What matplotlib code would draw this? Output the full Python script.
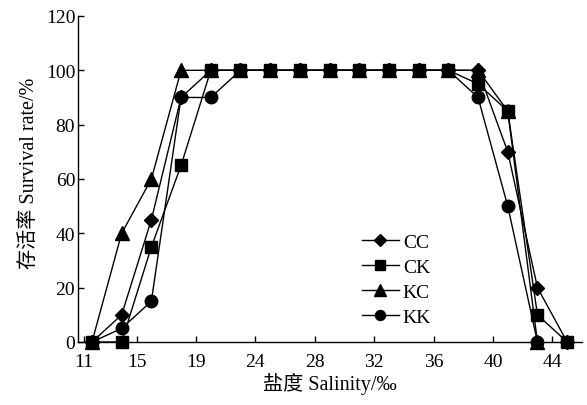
import matplotlib
matplotlib.use('Agg')
import matplotlib.pyplot as plt

plt.rcParams['font.family'] = ['Liberation Serif', 'Noto Sans CJK SC']

# 盐度 (点位) 与各组存活率
salinity = [12, 14, 16, 18, 20, 22, 24, 26, 28, 30, 32, 34, 36, 38, 40, 42, 44]
cc = [0, 10, 45, 90, 100, 100, 100, 100, 100, 100, 100, 100, 100, 100, 70, 20, 0]
ck = [0, 0, 35, 65, 100, 100, 100, 100, 100, 100, 100, 100, 100, 95, 85, 10, 0]
kc = [0, 40, 60, 100, 100, 100, 100, 100, 100, 100, 100, 100, 100, 100, 85, 0]
kk = [0, 5, 15, 90, 90, 100, 100, 100, 100, 100, 100, 100, 100, 90, 50, 0]

xtick_pos = [11.45, 15, 19, 23, 27, 31, 35, 39, 43]
xtick_labels = ['11', '15', '19', '24', '28', '32', '36', '40', '44']
yticks = [0, 20, 40, 60, 80, 100, 120]

fig = plt.figure(figsize=(5.87, 4.06), dpi=100)
ax = fig.add_axes([0.1329, 0.1552, 0.8586, 0.8030])

series = [('CC', cc, 'D', 7.5), ('CK', ck, 's', 9), ('KC', kc, '^', 10), ('KK', kk, 'o', 9)]
for name, vals, m, ms in series:
    ax.plot(salinity[:len(vals)], vals, color='black', lw=1.0, marker=m, ms=ms,
            mfc='black', mec='black', label=name, clip_on=False, zorder=3)

ax.set_xlim(11.06, 45.0)
ax.set_ylim(0, 120)
ax.set_xticks(xtick_pos)
ax.set_xticklabels(xtick_labels)
ax.set_yticks(yticks)
ax.tick_params(direction='in', length=4, width=1, labelsize=14, colors='black')
ax.tick_params(axis='x', pad=8)
ax.tick_params(axis='y', pad=2)
ax.spines['top'].set_visible(False)
ax.spines['right'].set_visible(False)
for s in ('left', 'bottom'):
    ax.spines[s].set_linewidth(1.0)

ax.set_xlabel('盐度 Salinity/‰', fontsize=14.5, labelpad=1)
ax.set_ylabel('存活率 Survival rate/%', fontsize=14.5)
ax.yaxis.set_label_coords(-0.078, 0.52)

ax.legend(loc='upper left', bbox_to_anchor=(362 / 587, 1 - 234 / 406),
          bbox_transform=fig.transFigure, frameon=False, fontsize=14,
          handlelength=1.9, handletextpad=0.2, labelspacing=0.38,
          borderpad=0, borderaxespad=0, markerscale=0.8)

fig.savefig('out.png', dpi=100)
